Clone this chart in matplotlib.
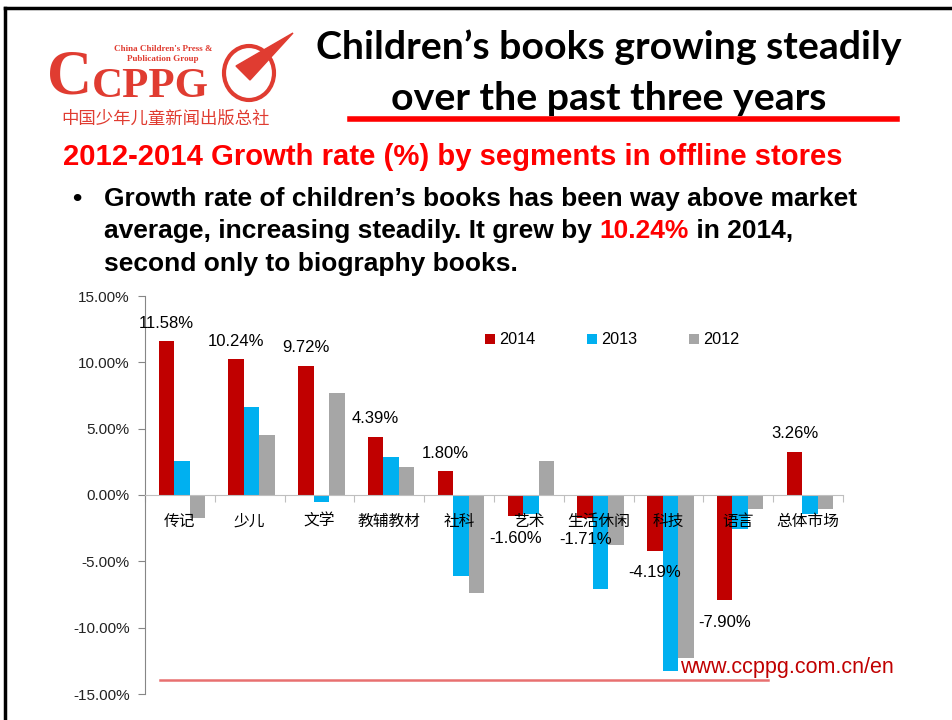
import matplotlib.pyplot as plt
import matplotlib.patches as mpatches
from matplotlib.lines import Line2D
import numpy as np

categories = ['传记', '少儿', '文学', '教辅教材', '社科', '艺术', '生活休闲', '科技', '语言', '总体市场']
g2014 = [11.58, 10.24, 9.72, 4.39, 1.80, -1.60, -1.71, -4.19, -7.90, 3.26]
g2013 = [2.53, 6.67, -0.53, 2.88, -6.14, -1.45, -7.07, -13.3, -2.56, -1.45]
g2012 = [-1.70, 4.53, 7.72, 2.08, -7.40, 2.56, -3.76, -12.3, -1.08, -1.08]
years = ['2014', '2013', '2012']
colors = ['#C00000', '#00B0F0', '#A6A6A6']
yticks = [15, 10, 5, 0, -5, -10, -15]

W, H = 953, 720
plt.rcParams['font.family'] = ['Liberation Sans', 'Noto Sans CJK SC', 'DejaVu Sans']

fig = plt.figure(figsize=(W / 100, H / 100), dpi=100)


def px(x, y):
    # pixel position -> figure fraction
    return x / W, 1 - y / H


# slide frame (top and left edges)
fig.add_artist(Line2D([5 / W, 1], [1 - 8 / H, 1 - 8 / H], color='black', lw=2.5))
fig.add_artist(Line2D([5 / W, 5 / W], [0, 1 - 8 / H], color='black', lw=2.5))

# logo
red = '#E03C31'
fig.text(*px(47, 93), 'C', fontsize=45, family='Liberation Serif', fontweight='bold',
         color=red, va='baseline')
fig.text(*px(92, 97), 'CPPG', fontsize=31, family='Liberation Serif', fontweight='bold',
         color=red, va='baseline')
fig.text(*px(163, 49), "China Children's Press &", fontsize=6.5, family='Liberation Serif',
         fontweight='bold', color=red, ha='center', va='center')
fig.text(*px(163, 59), 'Publication Group', fontsize=6.5, family='Liberation Serif',
         fontweight='bold', color=red, ha='center', va='center')
fig.text(*px(166, 119), '中国少年儿童新闻出版总社', fontsize=12.5, family='Noto Sans CJK SC',
         color=red, ha='center', va='center')
fig.add_artist(mpatches.Ellipse(px(249, 73), 50 / W, 54 / H, fill=False, ec=red, lw=3,
                                transform=fig.transFigure))
fig.add_artist(mpatches.Polygon([px(236, 66), px(293, 33), px(250, 80)], closed=True,
                                fc=red, ec=red, transform=fig.transFigure))

# title
fig.text(*px(609, 47), 'Children\u2019s books growing steadily', fontsize=28.3,
         family='Lato', fontweight='bold', ha='center', va='center')
fig.text(*px(609, 98), 'over the past three years', fontsize=28.3,
         family='Lato', fontweight='bold', ha='center', va='center')
fig.add_artist(Line2D([350 / W, 897 / W], [1 - 119 / H] * 2, color='#FF0000', lw=4))

# subtitle and bullet
fig.text(*px(63, 157), '2012-2014 Growth rate (%) by segments in offline stores',
         fontsize=21.1, fontweight='bold', color='#FF0000', va='center')
fig.text(*px(72, 199), '\u2022', fontsize=19, fontweight='bold', va='center')
fig.text(*px(104, 199), 'Growth rate of children\u2019s books has been way above market',
         fontsize=19, fontweight='bold', va='center')
t = fig.text(*px(104, 231), 'average, increasing steadily. It grew by ', fontsize=19,
             fontweight='bold', va='center')
fig.canvas.draw()
bb = t.get_window_extent()
t2 = fig.text(bb.x1 / W, 1 - 231 / H, '10.24%', fontsize=19, fontweight='bold',
              color='#FF0000', va='center')
bb2 = t2.get_window_extent()
fig.text(bb2.x1 / W, 1 - 231 / H, ' in 2014,', fontsize=19, fontweight='bold', va='center')
fig.text(*px(104, 264), 'second only to biography books.', fontsize=19,
         fontweight='bold', va='center')

# chart
ax = fig.add_axes([145 / W, 1 - 694 / H, 698 / W, 398 / H])
x = np.arange(len(categories))
bw = 0.222
shift = 0.027
for k, (vals, name, c) in enumerate(zip([g2014, g2013, g2012], years, colors)):
    ax.bar(x + (k - 1) * bw + shift, vals, width=bw, color=c, label=name, zorder=2)

for i, v in enumerate(g2014):
    off = 13 if v > 0 else -16
    ax.annotate(f'{v:.2f}%', (x[i] - bw + shift, v), xytext=(0, off),
                textcoords='offset points', ha='center', va='center', fontsize=12)

for i, name in enumerate(categories):
    ax.annotate(name, (x[i], 0), xytext=(0, -19), textcoords='offset points',
                ha='center', va='center', fontsize=11.3, family='Noto Sans CJK SC',
                zorder=5)

ax.set_xlim(-0.5, len(categories) - 0.5)
ax.set_ylim(-15, 15)
ax.set_yticks(yticks)
ax.set_yticklabels([f'{v:.2f}%' for v in yticks], fontsize=11, color='#222222')
ax.set_xticks(np.arange(len(categories) + 1) - 0.5)
ax.set_xticklabels([])
ax.tick_params(axis='x', direction='out', length=5, color='#BFBFBF')
ax.tick_params(axis='y', direction='out', length=5, color='#868686', pad=6)
for s in ['top', 'right']:
    ax.spines[s].set_visible(False)
ax.spines['bottom'].set_position(('data', 0))
ax.spines['bottom'].set_color('#BFBFBF')
ax.spines['left'].set_color('#868686')
ax.set_facecolor('none')

ax.legend(loc='center left', bbox_to_anchor=(485 / W, 1 - 340 / H),
          bbox_transform=fig.transFigure, ncol=3, frameon=False, fontsize=11.7,
          handlelength=0.6, handleheight=0.6, handletextpad=0.25, columnspacing=3.2,
          borderpad=0, borderaxespad=0)

# footer line and web address
fig.add_artist(Line2D([160 / W, 768 / W], [1 - 680 / H] * 2, color='#E87070', lw=1.8))
fig.text(*px(680, 667), 'www.ccppg.com.cn/en', fontsize=15.5, color='#C00000', va='center')

fig.savefig('out.png', dpi=100)
